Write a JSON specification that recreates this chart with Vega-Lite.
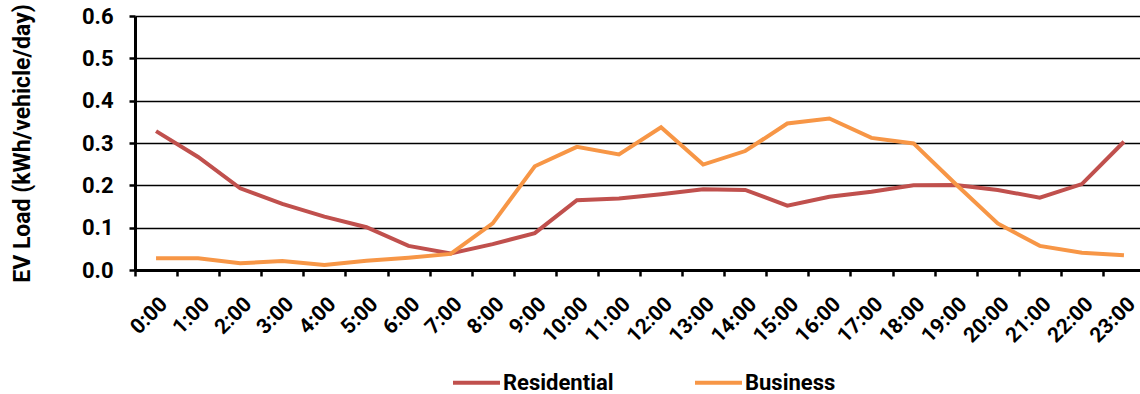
{
  "$schema": "https://vega.github.io/schema/vega-lite/v6.json",
  "autosize": {"type": "none"},
  "padding": {"left": 135, "top": 16, "right": 0, "bottom": 124},
  "width": 1005,
  "height": 254,
  "background": "white",
  "config": {
    "view": {"stroke": null},
    "font": "Roboto"
  },
  "data": {
    "values": [
      {"hour": "0:00", "series": "Residential", "value": 0.328},
      {"hour": "1:00", "series": "Residential", "value": 0.267},
      {"hour": "2:00", "series": "Residential", "value": 0.193},
      {"hour": "3:00", "series": "Residential", "value": 0.156},
      {"hour": "4:00", "series": "Residential", "value": 0.126},
      {"hour": "5:00", "series": "Residential", "value": 0.101},
      {"hour": "6:00", "series": "Residential", "value": 0.057},
      {"hour": "7:00", "series": "Residential", "value": 0.039},
      {"hour": "8:00", "series": "Residential", "value": 0.061},
      {"hour": "9:00", "series": "Residential", "value": 0.087},
      {"hour": "10:00", "series": "Residential", "value": 0.165},
      {"hour": "11:00", "series": "Residential", "value": 0.169},
      {"hour": "12:00", "series": "Residential", "value": 0.179},
      {"hour": "13:00", "series": "Residential", "value": 0.191},
      {"hour": "14:00", "series": "Residential", "value": 0.189},
      {"hour": "15:00", "series": "Residential", "value": 0.152},
      {"hour": "16:00", "series": "Residential", "value": 0.173},
      {"hour": "17:00", "series": "Residential", "value": 0.185},
      {"hour": "18:00", "series": "Residential", "value": 0.200},
      {"hour": "19:00", "series": "Residential", "value": 0.201},
      {"hour": "20:00", "series": "Residential", "value": 0.189},
      {"hour": "21:00", "series": "Residential", "value": 0.171},
      {"hour": "22:00", "series": "Residential", "value": 0.203},
      {"hour": "23:00", "series": "Residential", "value": 0.303},
      {"hour": "0:00", "series": "Business", "value": 0.028},
      {"hour": "1:00", "series": "Business", "value": 0.028},
      {"hour": "2:00", "series": "Business", "value": 0.016},
      {"hour": "3:00", "series": "Business", "value": 0.021},
      {"hour": "4:00", "series": "Business", "value": 0.012},
      {"hour": "5:00", "series": "Business", "value": 0.022},
      {"hour": "6:00", "series": "Business", "value": 0.029},
      {"hour": "7:00", "series": "Business", "value": 0.038},
      {"hour": "8:00", "series": "Business", "value": 0.110},
      {"hour": "9:00", "series": "Business", "value": 0.245},
      {"hour": "10:00", "series": "Business", "value": 0.291},
      {"hour": "11:00", "series": "Business", "value": 0.273},
      {"hour": "12:00", "series": "Business", "value": 0.337},
      {"hour": "13:00", "series": "Business", "value": 0.249},
      {"hour": "14:00", "series": "Business", "value": 0.281},
      {"hour": "15:00", "series": "Business", "value": 0.346},
      {"hour": "16:00", "series": "Business", "value": 0.358},
      {"hour": "17:00", "series": "Business", "value": 0.312},
      {"hour": "18:00", "series": "Business", "value": 0.299},
      {"hour": "19:00", "series": "Business", "value": 0.203},
      {"hour": "20:00", "series": "Business", "value": 0.110},
      {"hour": "21:00", "series": "Business", "value": 0.057},
      {"hour": "22:00", "series": "Business", "value": 0.041},
      {"hour": "23:00", "series": "Business", "value": 0.035}
    ]
  },
  "mark": {"type": "line", "strokeWidth": 4, "interpolate": "linear"},
  "encoding": {
    "x": {
      "field": "hour",
      "type": "nominal",
      "sort": null,
      "scale": {"type": "band", "paddingInner": 0, "paddingOuter": 0, "range": [0, 1010]},
      "axis": {
        "title": null,
        "tickBand": "extent",
        "labelAngle": -45,
        "labelFont": "Roboto",
        "labelFontWeight": "bold",
        "labelFontSize": 21,
        "labelColor": "#000",
        "labelPadding": 17,
        "tickColor": "#000",
        "tickSize": 6,
        "tickWidth": 2.5,
        "domainColor": "#000",
        "domainWidth": 3,
        "grid": false
      }
    },
    "y": {
      "field": "value",
      "type": "quantitative",
      "scale": {"domain": [0, 0.6], "nice": false, "zero": true},
      "axis": {
        "title": "EV Load (kWh/vehicle/day)",
        "titleFont": "Roboto",
        "titleFontWeight": "bold",
        "titleFontSize": 23,
        "titleColor": "#000",
        "titlePadding": 47,
        "values": [0, 0.1, 0.2, 0.3, 0.4, 0.5, 0.6],
        "format": ".1f",
        "labelFont": "Roboto",
        "labelFontWeight": "bold",
        "labelFontSize": 22,
        "labelColor": "#000",
        "labelPadding": 16,
        "tickColor": "#000",
        "tickSize": 6,
        "tickWidth": 2.5,
        "domainColor": "#000",
        "domainWidth": 3,
        "grid": true,
        "gridColor": "#000",
        "gridWidth": 1.5
      }
    },
    "color": {
      "field": "series",
      "type": "nominal",
      "sort": ["Residential", "Business"],
      "scale": {"domain": ["Residential", "Business"], "range": ["#C0504D", "#F79646"]},
      "legend": {
        "title": null,
        "orient": "none",
        "direction": "horizontal",
        "legendX": 316,
        "legendY": 341,
        "symbolType": "stroke",
        "symbolSize": 2209,
        "symbolStrokeWidth": 4,
        "labelFont": "Roboto",
        "labelFontWeight": "bold",
        "labelFontSize": 22,
        "labelColor": "#000",
        "labelOffset": 1,
        "columnPadding": 73
      }
    }
  }
}
